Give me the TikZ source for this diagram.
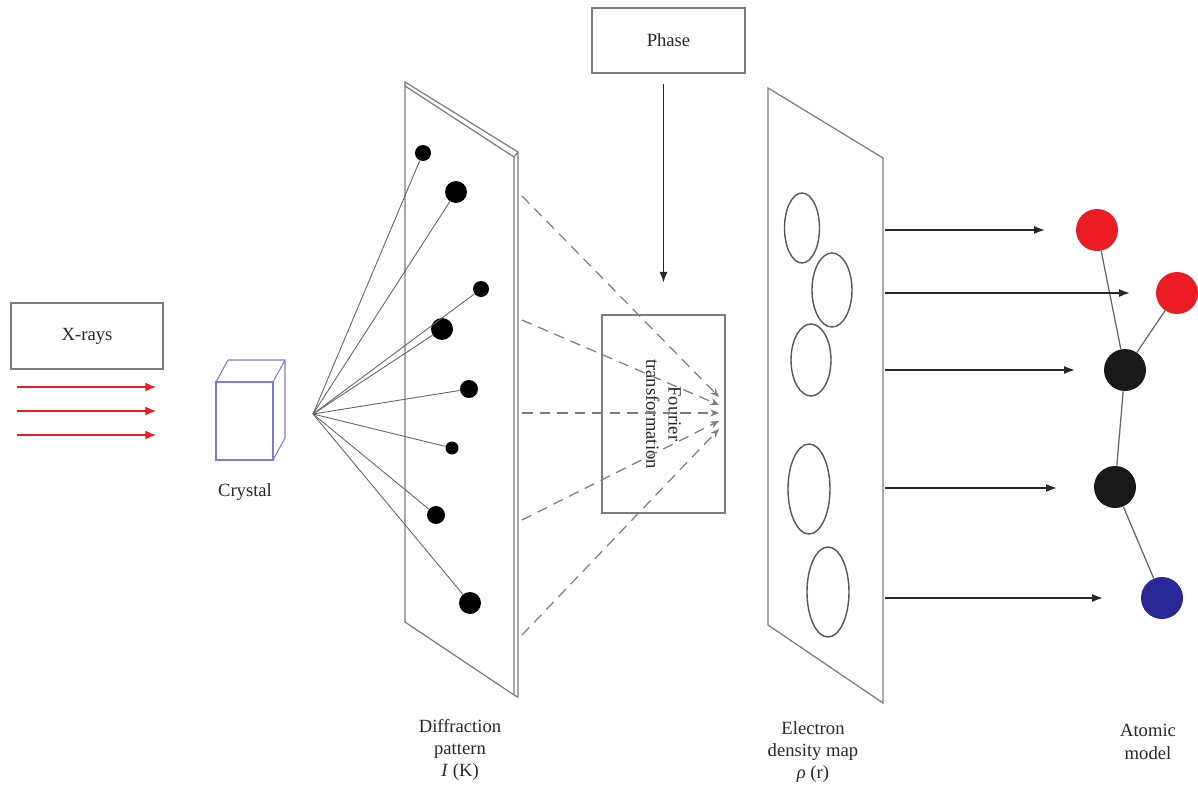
\documentclass[tikz,border=0pt]{standalone}
\usepackage{fontspec}
\setmainfont{Liberation Serif}
\usetikzlibrary{arrows.meta,positioning}

\definecolor{rayred}{RGB}{232,30,36}
\definecolor{cryst}{RGB}{125,125,215}
\definecolor{atomred}{RGB}{236,28,36}
\definecolor{atomblue}{RGB}{40,40,150}
\definecolor{atomblack}{RGB}{25,25,25}
\definecolor{edge}{RGB}{125,125,125}
\definecolor{ink}{RGB}{40,40,40}

\newcommand\pxl{0.02cm}

\tikzset{
  lbl/.style={font=\fontsize{10.6}{12.7}\selectfont, text=ink, align=center},
  box/.style={draw=edge, line width=0.7pt, inner sep=0pt},
  spot/.style={circle, fill=black, inner sep=0pt},
  atom/.style={circle, inner sep=0pt, minimum size=42*\pxl},
  arr/.style={-{Latex[length=6pt,width=4.5pt]}, line width=0.6pt, black!85},
  ray/.style={-{Latex[length=6pt,width=5pt]}, line width=0.7pt, rayred},
  beam/.style={edge!80!black, line width=0.5pt},
  wave/.style={edge, line width=0.7pt, dash pattern=on 6pt off 4pt,
    -{Stealth[length=5pt,width=4pt]}},
  plate/.style={draw=edge, line width=0.7pt},
  blob/.style={draw=edge!70!black, line width=0.8pt},
}

\begin{document}
\begin{tikzpicture}[x=0.02cm, y=-0.02cm]

  \useasboundingbox (0,0) rectangle (1198,791);

  %% source and beam
  \node[box, lbl, minimum width=152*\pxl, minimum height=66*\pxl] (xr) at (87,336) {X-rays};
  \foreach \y in {387,411,435}
    \draw[ray] (17,\y) -- (156,\y);

  %% crystal
  \draw[cryst, line width=0.6pt] (216,382) rectangle (273,460);
  \draw[cryst, line width=0.6pt] (216,382) -- (228,360) -- (285,360) -- (273,382)
    (285,360) -- (285,438) -- (273,460);
  \node[lbl] (crys) at (245,492) {Crystal};

  %% diffraction plate (with a bit of thickness)
  \draw[plate] (405,86) -- (514,157) -- (514,695) -- (405,622) -- cycle;
  \draw[plate] (405,86) -- (405,82) -- (518,152) -- (518,697) -- (514,695);
  \draw[plate] (514,157) -- (518,152);

  \coordinate (src) at (313,414);
  \foreach \n/\x/\y/\r in {d1/423/153/8, d2/456/192/11, d3/481/289/8, d4/442/329/11,
                          d5/469/389/9, d6/452/448/6.5, d7/436/515/9, d8/470/603/11}
    \node[spot, minimum size=2*\r*\pxl] (\n) at (\x,\y) {};
  \foreach \n in {d1,d2,d3,d4,d5,d6,d7,d8}
    \draw[beam] (src) -- (\n);

  \node[lbl] (dlab) at (460,750) {Diffraction\\pattern\\\textit{I} (K)};

  %% phase + fourier step
  \node[box, lbl, minimum width=153*\pxl, minimum height=65*\pxl] (ph) at (668.5,40.5) {Phase};
  \node[box, minimum width=123*\pxl, minimum height=198*\pxl] (ft) at (663.5,414) {};
  \node[lbl, rotate=-90] (ftx) at (ft.center) {Fourier\\transformation};

  \foreach \a/\b in {196/397, 320/405, 413/413, 520/421, 635/429}
    \draw[wave] (522,\a) -- (719,\b);

  \draw[arr, shorten <=10*\pxl, shorten >=32*\pxl] (ph.south -| ft.north) -- (ft.north);

  %% electron density map
  \draw[plate] (768,88) -- (883,158) -- (883,703) -- (768,625) -- cycle;
  \draw[blob] (802,228) ellipse [x radius=17.5*\pxl, y radius=35*\pxl];
  \draw[blob] (832,290) ellipse [x radius=20*\pxl, y radius=37*\pxl];
  \draw[blob] (811,360) ellipse [x radius=20*\pxl, y radius=36*\pxl];
  \draw[blob] (809,489) ellipse [x radius=21*\pxl, y radius=45*\pxl];
  \draw[blob] (828,592) ellipse [x radius=21*\pxl, y radius=45*\pxl];
  \node[lbl] (elab) at (813,752) {Electron\\density map\\\textit{ρ} (r)};

  %% atomic model
  \node[atom, fill=atomred]   (o1) at (1097,230) {};
  \node[atom, fill=atomred]   (o2) at (1177,293) {};
  \node[atom, fill=atomblack] (c1) at (1125,370) {};
  \node[atom, fill=atomblack] (c2) at (1115,487) {};
  \node[atom, fill=atomblue]  (n1) at (1162,598) {};
  \draw[beam, line width=0.7pt] (o1) -- (c1) (o2) -- (c1) (c1) -- (c2) (c2) -- (n1);

  \foreach \a/\y/\g in {o1/230/31, o2/293/26, c1/370/29, c2/488/37, n1/598/38}
    \draw[arr, shorten >=\g*\pxl] (885,\y) -- (\a.west |- 0,\y);

  \node[lbl] (alab) at (1148,742) {Atomic\\model};

\end{tikzpicture}
\end{document}
